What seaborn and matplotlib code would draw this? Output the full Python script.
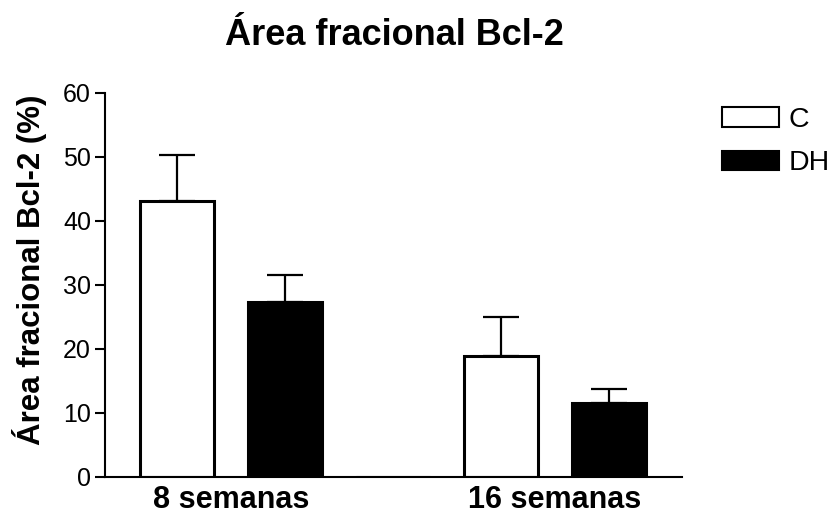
import matplotlib
matplotlib.use("Agg")
import matplotlib.pyplot as plt
from matplotlib.patches import Patch
import pandas as pd
import seaborn as sns

# Bcl-2 fractional area (%), mean and upper error per group
weeks = ["8 semanas", "16 semanas"]
groups = ["C", "DH"]
mean_c = [43.2, 18.9]
mean_dh = [27.3, 11.6]
err_c = [7.1, 6.15]
err_dh = [4.2, 2.15]

# bar slots: C and DH for each period, with an empty slot between periods
slots = ["C 8", "DH 8", "gap", "C 16", "DH 16"]
slot_group = ["C", "DH", "gap", "C", "DH"]
slot_mean = [mean_c[0], mean_dh[0], 0.0, mean_c[1], mean_dh[1]]
slot_err = [err_c[0], err_dh[0], 0.0, err_c[1], err_dh[1]]

df = pd.DataFrame({"slot": slots, "group": slot_group, "value": slot_mean})
colors = {"C": "white", "DH": "black", "gap": "white"}

sns.set_theme(style="ticks")
plt.rcParams["font.family"] = ["Liberation Sans", "DejaVu Sans"]
plt.rcParams["text.color"] = "black"
plt.rcParams["axes.labelcolor"] = "black"
plt.rcParams["xtick.color"] = "black"
plt.rcParams["ytick.color"] = "black"

fig = plt.figure(figsize=(8.35, 5.17), dpi=100)
ax = fig.add_axes([105 / 835, 40 / 517, 577 / 835, 384 / 517])

sns.barplot(data=df, x="slot", y="value", hue="group", order=slots,
            hue_order=["C", "DH", "gap"], palette=colors, dodge=False,
            width=0.68, edgecolor="black", linewidth=2.2, errorbar=None,
            legend=False, ax=ax)

# upper-only error bars
xpos = [slots.index(s) for s in slots if s != "gap"]
ymean = [m for s, m in zip(slots, slot_mean) if s != "gap"]
yerr = [e for s, e in zip(slots, slot_err) if s != "gap"]
ax.errorbar(xpos, ymean, yerr=[[0] * len(yerr), yerr], fmt="none",
            ecolor="black", elinewidth=1.6, capsize=13.3, capthick=1.6,
            zorder=1)

ax.set_xlim(-0.667, 4.676)
ax.set_ylim(0, 60)
ax.set_yticks([0, 10, 20, 30, 40, 50, 60])
ax.set_xticks([0.5, 3.5])
ax.set_xticklabels(weeks, fontsize=22, fontweight="bold", color="black")
ax.tick_params(axis="x", length=0, pad=6)
ax.tick_params(axis="y", length=7, width=1.5, labelsize=18, pad=3,
               color="black", labelcolor="black")
ax.set_xlabel("")
ax.set_ylabel("Área fracional Bcl-2 (%)", fontsize=22.5, fontweight="bold",
              color="black")
ax.yaxis.set_label_coords(-0.1, 0.54)

for side in ["top", "right"]:
    ax.spines[side].set_visible(False)
for side in ["left", "bottom"]:
    ax.spines[side].set_linewidth(1.5)
    ax.spines[side].set_color("black")

fig.text(0.472, (517 - 45) / 517, "Área fracional Bcl-2", ha="center",
         va="baseline", fontsize=26, fontweight="bold", color="black")

handles = [Patch(facecolor=colors[g], edgecolor="black", linewidth=1.5)
           for g in groups]
leg = fig.legend(handles, groups, loc="upper left",
                 bbox_to_anchor=(722 / 835, (517 - 107) / 517), frameon=False,
                 fontsize=20.5, handlelength=2.0, handleheight=0.65,
                 handletextpad=0.35, labelspacing=0.6, borderpad=0,
                 borderaxespad=0)
for t in leg.get_texts():
    t.set_color("black")

fig.savefig("out.png", dpi=100, facecolor="white")
